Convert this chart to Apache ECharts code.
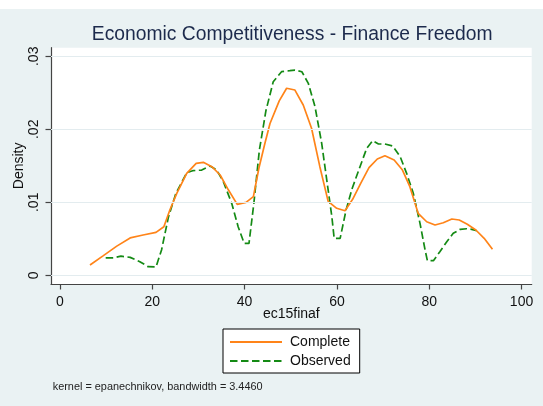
<!DOCTYPE html>
<html>
<head>
<meta charset="utf-8">
<script src="https://cdn.jsdelivr.net/npm/echarts@6/dist/echarts.min.js"></script>
<style>
html,body{margin:0;padding:0;background:#fff;}
#chart{width:543px;height:406px;}
</style>
</head>
<body>
<div id="chart"></div>
<script>
// ---- data ----
var titleText = 'Economic Competitiveness - Finance Freedom';
var noteText = 'kernel = epanechnikov, bandwidth = 3.4460';
var xName = 'ec15finaf';
var yName = 'Density';
var seriesNames = ['Complete', 'Observed'];
var xTicks = [0, 20, 40, 60, 80, 100];
var xTickLabels = ['0', '20', '40', '60', '80', '100'];
var yTicks = [0, 0.01, 0.02, 0.03];
var yTickLabels = ['0', '.01', '.02', '.03'];

var completeX = [6.5, 9.4, 12.3, 15.2, 18.0, 20.8, 22.5, 23.8, 25.3, 27.45, 29.5, 31.05, 32.9, 34.7, 36.5, 38.4, 40.3, 41.9, 43.1, 44.4, 45.5, 47.5, 49.1, 50.9, 52.7, 54.5, 56.3, 58.1, 59.95, 61.75, 63.4, 65.15, 66.95, 68.75, 70.4, 72.4, 74.2, 75.8, 77.6, 79.45, 81.25, 83.05, 84.9, 86.5, 88.25, 90.1, 91.9, 93.7];
var completeY = [0.00141, 0.0027, 0.0040, 0.00512, 0.00552, 0.00589, 0.00666, 0.00895, 0.01123, 0.01397, 0.01534, 0.01548, 0.01488, 0.01374, 0.01168, 0.00972, 0.0100, 0.01077, 0.0147, 0.0181, 0.0208, 0.0239, 0.02562, 0.02538, 0.02333, 0.02014, 0.01488, 0.01013, 0.00918, 0.00885, 0.01041, 0.0126, 0.01474, 0.01593, 0.01638, 0.01579, 0.01442, 0.01214, 0.00849, 0.00734, 0.00689, 0.0072, 0.00771, 0.00758, 0.00699, 0.00621, 0.00507, 0.00356];

var observedX = [9.9, 11.6, 13.2, 15.2, 17.3, 19.1, 20.8, 22.0, 23.5, 25.1, 27.45, 28.75, 30.7, 32.5, 33.95, 35.4, 37.2, 38.6, 39.9, 40.95, 42.0, 43.2, 44.6, 46.2, 48.0, 49.8, 50.9, 52.4, 53.8, 55.25, 56.7, 57.8, 58.9, 59.4, 60.7, 62.0, 63.3, 65.0, 66.45, 67.75, 69.0, 70.4, 72.1, 73.7, 75.1, 76.55, 78.0, 79.1, 79.6, 80.9, 82.3, 83.8, 85.2, 86.7, 88.1, 89.2, 90.3];
var observedY = [0.00238, 0.0024, 0.00262, 0.00246, 0.00187, 0.00118, 0.00114, 0.00347, 0.0080, 0.0112, 0.01405, 0.01433, 0.01442, 0.01497, 0.01442, 0.01282, 0.00986, 0.00666, 0.00438, 0.00438, 0.00986, 0.01716, 0.0225, 0.02652, 0.02789, 0.02803, 0.02812, 0.02789, 0.0263, 0.0231, 0.01808, 0.01305, 0.00803, 0.00507, 0.00507, 0.0090, 0.0119, 0.01488, 0.0174, 0.01844, 0.01799, 0.01799, 0.01771, 0.01625, 0.01397, 0.01123, 0.00712, 0.00347, 0.002, 0.002, 0.00323, 0.0046, 0.00575, 0.0063, 0.00638, 0.0063, 0.00611];

function zip(a, b) { var r = []; for (var i = 0; i < a.length; i++) r.push([a[i], b[i]]); return r; }
function labelFor(ticks, labels, v) {
  for (var i = 0; i < ticks.length; i++) if (Math.abs(ticks[i] - v) < 1e-9) return labels[i];
  return '';
}

var FONT = '"Liberation Sans", Arial, Helvetica, sans-serif';
var BG = '#eaf2f3';
var GRIDC = '#e3ecef';
var AXC = '#444444';
var TXT = '#111111';

var chart = echarts.init(document.getElementById('chart'), null, {renderer: 'canvas'});
var option = {
  animation: false,
  backgroundColor: BG,
  textStyle: {fontFamily: FONT},
  graphic: [
    {type: 'rect', left: 0, top: 0, shape: {x: 0, y: 0, width: 543, height: 9}, style: {fill: '#ffffff'}, silent: true},
    {type: 'text', x: 292.2, y: 34.2, style: {text: titleText, textAlign: 'center', textVerticalAlign: 'middle', fontSize: 19.3, fontFamily: FONT, fill: '#1c2a4c'}, silent: true},
    {type: 'text', x: 52.7, y: 386.7, style: {text: noteText, textAlign: 'left', textVerticalAlign: 'middle', fontSize: 10.9, fontFamily: FONT, fill: '#222222'}, silent: true}
  ],
  grid: {left: 51, right: 11.3, top: 47.7, bottom: 122, show: true, backgroundColor: '#ffffff', borderWidth: 0},
  legend: {
    orient: 'vertical', left: 223, top: 329,
    padding: [6, 9, 5, 6],
    itemWidth: 52, itemHeight: 14, itemGap: 5,
    backgroundColor: '#ffffff', borderColor: '#000000', borderWidth: 1, borderRadius: 0,
    itemStyle: {opacity: 0},
    textStyle: {fontSize: 14, color: TXT, fontFamily: FONT, padding: [0, 0, 0, 3]},
    data: seriesNames
  },
  xAxis: {
    type: 'value', min: -1.95, max: 102.2,
    name: xName, nameLocation: 'middle', nameGap: 23, nameMoveOverlap: false,
    nameTextStyle: {fontSize: 14, color: TXT, fontFamily: FONT},
    axisLine: {show: true, onZero: false, lineStyle: {color: AXC, width: 1.2}},
    axisTick: {show: true, customValues: xTicks, length: 5.5, lineStyle: {color: AXC, width: 1.2}},
    axisLabel: {customValues: xTicks, fontSize: 14, color: TXT, fontFamily: FONT, margin: 11.5,
      formatter: function (v) { return labelFor(xTicks, xTickLabels, v); }},
    splitLine: {show: false}
  },
  yAxis: {
    type: 'value', min: -0.00119, max: 0.03118,
    name: yName, nameLocation: 'middle', nameGap: 25, nameRotate: 90, nameMoveOverlap: false,
    nameTextStyle: {fontSize: 14, color: TXT, fontFamily: FONT},
    axisLine: {show: true, onZero: false, lineStyle: {color: AXC, width: 1.2}},
    axisTick: {show: true, customValues: yTicks, length: 5.5, lineStyle: {color: AXC, width: 1.2}},
    axisLabel: {customValues: yTicks, rotate: 90, fontSize: 14, color: TXT, fontFamily: FONT, margin: 9.5,
      formatter: function (v) { return labelFor(yTicks, yTickLabels, v); }},
    splitLine: {show: false}
  },
  series: [
    {
      name: '__grid', type: 'line', data: [], z: 1, silent: true,
      markLine: {
        silent: true, symbol: ['none', 'none'], label: {show: false},
        lineStyle: {color: GRIDC, width: 1.2, type: 'solid'},
        emphasis: {disabled: true},
        data: yTicks.map(function (v) { return {yAxis: v}; })
      }
    },
    {
      name: seriesNames[0], type: 'line', data: zip(completeX, completeY), z: 3,
      symbol: 'none', smooth: false,
      lineStyle: {color: '#ff8419', width: 1.7},
      itemStyle: {color: '#ff8419'}
    },
    {
      name: seriesNames[1], type: 'line', data: zip(observedX, observedY), z: 2,
      symbol: 'none', smooth: false,
      lineStyle: {color: '#148a14', width: 1.7, type: [7.5, 3.5]},
      itemStyle: {color: '#148a14'}
    }
  ]
};
chart.setOption(option);
</script>
</body>
</html>
